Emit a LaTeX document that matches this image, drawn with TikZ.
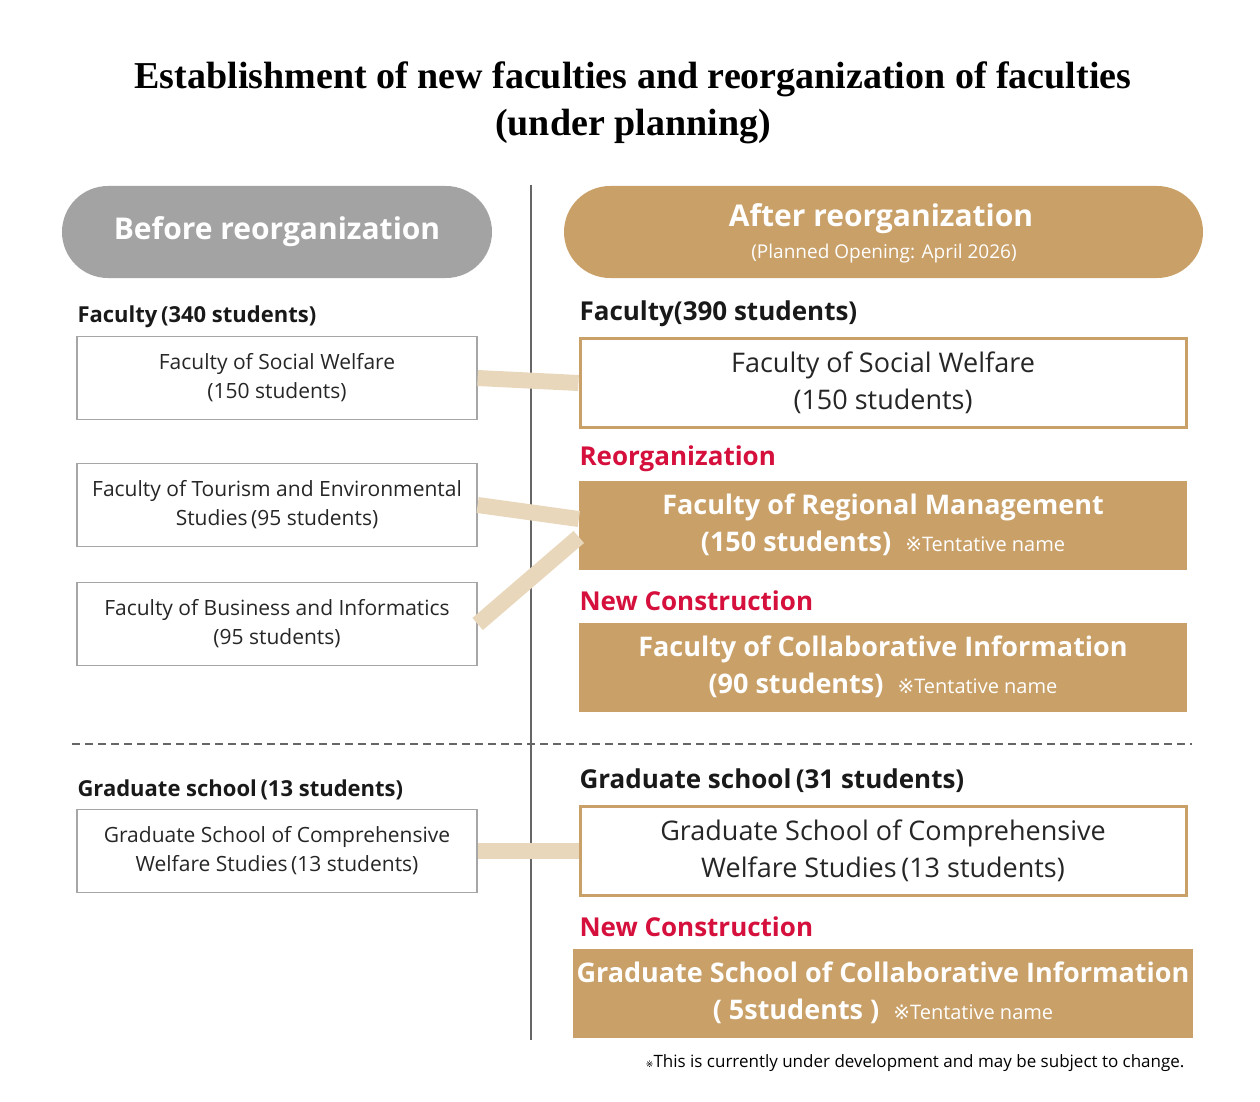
\documentclass[tikz,border=0pt]{standalone}
\usepackage{fontspec}
\setmainfont{Liberation Serif}
\setsansfont{Open Sans}
\newfontfamily\symfont{DejaVu Sans}
\usetikzlibrary{positioning}
\definecolor{tan}{HTML}{C9A068}
\definecolor{lighttan}{HTML}{E9D7BC}
\definecolor{pillgray}{HTML}{A3A3A3}
\definecolor{alert}{HTML}{D5103D}
\newcommand{\tentname}{{\sffamily\mdseries\fontsize{20}{24}\selectfont{\symfont ※}Tentative name}}
\tikzset{
    oldbox/.style={draw=gray!70,line width=1.3pt,minimum width=400pt,minimum height=83pt,align=center,font=\sffamily\fontsize{21}{29}\selectfont,text=black!85},
    newbox/.style={draw=tan,line width=3pt,minimum width=606pt,minimum height=89pt,align=center,font=\sffamily\fontsize{27}{37}\selectfont,text=black!85},
    fullbox/.style={fill=tan,minimum width=608pt,minimum height=89pt,align=center,text=white,font=\sffamily\bfseries\fontsize{27}{37}\selectfont},
    heading/.style={anchor=west,font=\sffamily\bfseries\fontsize{22}{26}\selectfont,text=black!90},
    bighead/.style={anchor=west,font=\sffamily\bfseries\fontsize{26}{30}\selectfont,text=black!90},
    redhead/.style={anchor=west,font=\sffamily\bfseries\fontsize{26}{30}\selectfont,text=alert},
    link/.style={lighttan,line width=16pt}
}
\begin{document}
\begin{tikzpicture}[x=1pt,y=-1pt]
\useasboundingbox (0,0) rectangle (1260,1102);

% title
\node (title) at (633,103) [align=center,font=\bfseries\fontsize{38}{47}\selectfont] {Establishment of new faculties and reorganization of faculties\\(under planning)};

% pills
\fill[pillgray,rounded corners=46pt] (62,186) rectangle (492,278);
\node (before) at (277,232) [text=white,font=\sffamily\bfseries\fontsize{30}{34}\selectfont] {Before reorganization};
\fill[tan,rounded corners=46pt] (564,186) rectangle (1203,278);
\node (after) at (881,219) [text=white,font=\sffamily\bfseries\fontsize{30}{34}\selectfont] {After reorganization};
\node (opening) at (884,254) [text=white,font=\sffamily\fontsize{19}{22}\selectfont] {(Planned Opening: April 2026)};

% separators
\draw[gray!80!black,line width=1.3pt] (531,185) -- (531,1040);
\draw[gray!80!black,line width=1.2pt,dash pattern=on 8pt off 5pt] (72,744) -- (1192,744);

% before
\node (fac old) at (74,317) [heading] {Faculty\,(340 students)};
\node[oldbox] (welfare old) at (277,378) {Faculty of Social Welfare\\(150 students)};
\node[oldbox] (tourism) at (277,505) {Faculty of Tourism and Environmental\\Studies\,(95 students)};
\node[oldbox] (business) at (277,624) {Faculty of Business and Informatics\\(95 students)};
\node (grad old) at (74,790) [heading] {Graduate school\,(13 students)};
\node[oldbox] (gradwelfare old) at (277,851) {Graduate School of Comprehensive\\Welfare Studies\,(13 students)};

% after
\node (fac new) at (576,314) [bighead] {Faculty(390 students)};
\node[newbox] (welfare new) at (883,383) {Faculty of Social Welfare\\(150 students)};
\node (reorg) at (576,459) [redhead] {Reorganization};
\node[fullbox] (regional) at (883,525) {Faculty of Regional Management\\(150 students)\ \ \tentname};
\node (newcon 1) at (576,601) [redhead] {New Construction};
\node[fullbox] (collab) at (883,667) {Faculty of Collaborative Information\\(90 students)\ \ \tentname};
\node (grad new) at (576,781) [bighead] {Graduate school\,(31 students)};
\node[newbox] (gradwelfare new) at (883,851) {Graduate School of Comprehensive\\Welfare Studies\,(13 students)};
\node (newcon 2) at (576,927) [redhead] {New Construction};
\node[fullbox] (gradcollab) at (883,993) {Graduate School of Collaborative Information\\(\ 5students\ )\ \ \tentname};
\node (note) at (1188,1063) [anchor=east,font=\sffamily\fontsize{17}{20}\selectfont] {{\symfont\small ※}This is currently under development and may be subject to change.};

% links
\draw[link] (welfare old.east) -- (welfare new.west);
\draw[link] (tourism.east) -- ([yshift=6pt]regional.west);
\draw[link] (business.east) -- ([yshift=-12pt]regional.west);
\draw[link] (gradwelfare old.east) -- (gradwelfare new.west);
\end{tikzpicture}
\end{document}
